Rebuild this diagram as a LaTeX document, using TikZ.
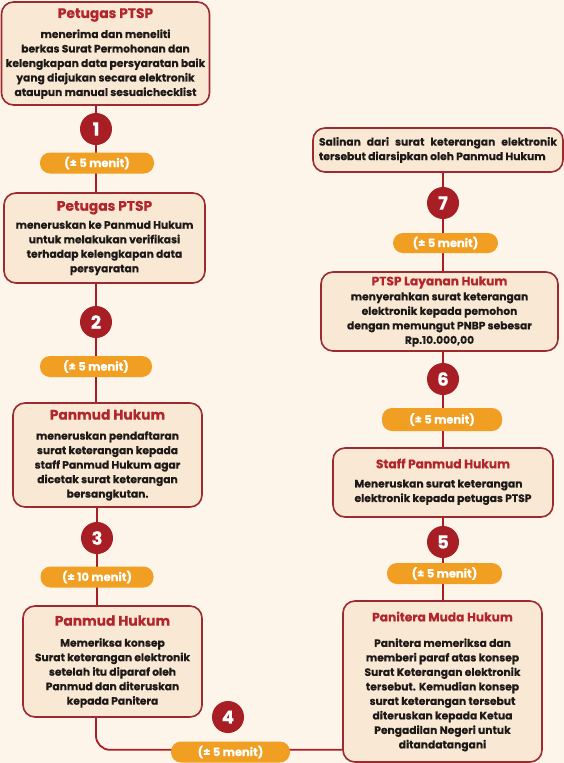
\documentclass[tikz,border=0pt]{standalone}
\usepackage{fontspec}
\setmainfont{Poppins}[BoldFeatures={FakeBold=0.4}]

\definecolor{bgcream}{HTML}{FDF4EA}
\definecolor{boxfill}{HTML}{F9E8D4}
\definecolor{boxline}{HTML}{9C2A2E}
\definecolor{titlered}{HTML}{B2252B}
\definecolor{stepred}{HTML}{A81E25}
\definecolor{pillorange}{HTML}{F09F22}
\definecolor{bodytext}{HTML}{1E1A18}

\pgfdeclarelayer{back}
\pgfdeclarelayer{wires}
\pgfsetlayers{back,wires,main}

\newcommand\bodyfont{\fontsize{10.7}{14.5}\selectfont\bfseries}
\newcommand\cardtitle[1]{{\fontsize{13.8}{14}\selectfont\color{titlered}#1}}
\newcommand\smalltitle[1]{{\fontsize{12.2}{14}\selectfont\color{titlered}#1}}

\tikzset{
  card/.style={draw=boxline, line width=1.6pt, fill=boxfill, rounded corners=12pt,
    inner sep=0pt, align=center, text=bodytext, font=\bodyfont},
  stepdot/.style={circle, fill=stepred, minimum size=32pt, inner sep=0pt,
    text=white, font=\fontsize{18}{18}\selectfont\bfseries},
  pill/.style={fill=pillorange, rounded corners=10pt, minimum height=21pt,
    inner sep=0pt, text=white, font=\fontsize{11.5}{12}\selectfont\bfseries},
  wire/.style={draw=stepred, line width=1.8pt},
}

\begin{document}
\begin{tikzpicture}[x=1pt,y=-1pt]
\useasboundingbox (0,0) rectangle (564,763);
\begin{pgfonlayer}{back}
  \fill[bgcream] (0,0) rectangle (564,763);
\end{pgfonlayer}

% left column
\node[card, minimum width=208pt, minimum height=103pt] (b1) at (105.5,53.5)
  {\cardtitle{Petugas PTSP}\\[5.5pt]
   menerima dan meneliti\\ berkas Surat Permohonan dan\\
   kelengkapan data persyaratan baik\\ yang diajukan secara elektronik\\
   ataupun manual sesuaichecklist};
\node[card, minimum width=201pt, minimum height=90pt] (b2) at (104.5,238)
  {\cardtitle{Petugas PTSP}\\[3.5pt]
   meneruskan ke Panmud Hukum\\ untuk melakukan verifikasi\\
   terhadap kelengkapan data\\ persyaratan};
\node[card, minimum width=189pt, minimum height=104pt] (b3) at (107.5,455)
  {\cardtitle{Panmud Hukum}\\[5.5pt]
   meneruskan pendaftaran\\ surat keterangan kepada\\
   staff Panmud Hukum agar\\ dicetak surat keterangan\\ bersangkutan.};
\node[card, minimum width=179pt, minimum height=111pt] (b4) at (112.5,661.5)
  {\cardtitle{Panmud Hukum}\\[6.5pt]
   Memeriksa konsep\\ Surat keterangan elektronik\\
   setelah itu diparaf oleh\\ Panmud dan diteruskan\\ kepada Panitera};

% right column
\node[card, minimum width=199pt, minimum height=161pt] (b5) at (442.5,681.5)
  {\smalltitle{Panitera Muda Hukum}\\[11pt]
   Panitera memeriksa dan\\ memberi paraf atas konsep\\
   Surat Keterangan elektronik\\ tersebut. Kemudian konsep\\
   surat keterangan tersebut\\ diteruskan kepada Ketua\\
   Pengadilan Negeri untuk\\ ditandatangani};
\node[card, minimum width=220pt, minimum height=69pt] (b6) at (443,482.5)
  {\smalltitle{Staff Panmud Hukum}\\[8pt]
   \begin{tabular}{@{}l@{}}Meneruskan surat keterangan\\
   elektronik kepada petugas PTSP\end{tabular}};
\node[card, minimum width=237pt, minimum height=79pt] (b7) at (439.5,311.5)
  {\smalltitle{PTSP Layanan Hukum}\\[0.5pt]
   menyerahkan surat keterangan\\ elektronik kepada pemohon\\
   dengan memungut PNBP sebesar\\ Rp.10.000,00};
\node[card, minimum width=250pt, minimum height=44pt] (b8) at (438,150)
  {\makebox[238pt][s]{Salinan dari surat keterangan elektronik}\\
   \makebox[238pt][l]{tersebut diarsipkan oleh Panmud Hukum}};

% step markers
\node[stepdot] (c1) at (96,129) {1};
\node[stepdot] (c2) at (96,322) {2};
\node[stepdot] (c3) at (97,538) {3};
\node[stepdot] (c4) at (228,717) {4};
\node[stepdot] (c5) at (443,542) {5};
\node[stepdot] (c6) at (443,379) {6};
\node[stepdot] (c7) at (443,203) {7};

% durations
\node[pill, minimum width=114pt] (p1) at (97,163) {(± 5 menit)};
\node[pill, minimum width=112pt] (p2) at (96,366.5) {(± 5 menit)};
\node[pill, minimum width=113pt] (p3) at (97,577) {(± 10 menit)};
\node[pill, minimum width=119pt] (p4) at (230.5,752) {(± 5 menit)};
\node[pill, minimum width=115pt] (p5) at (444.5,573.5) {(± 5 menit)};
\node[pill, minimum width=120pt, minimum height=23pt] (p6) at (442,419.5) {(± 5 menit)};
\node[pill, minimum width=105pt, minimum height=20pt] (p7) at (445.5,243) {(± 5 menit)};

% connectors
\begin{pgfonlayer}{wires}
  \draw[wire] (c1 |- b1.south) -- (c1 |- b2.north);
  \draw[wire] (c2 |- b2.south) -- (c2 |- b3.north);
  \draw[wire] (c3 |- b3.south) -- (c3 |- b4.north);
  \draw[wire, rounded corners=14pt] (c2 |- b4.south) |- ([yshift=13pt]b5.south west);
  \draw[wire] (c5 |- b5.north) -- (c5 |- b6.south);
  \draw[wire] (c6 |- b6.north) -- (c6 |- b7.south);
  \draw[wire] (c7 |- b7.north) -- (c7 |- b8.south);
\end{pgfonlayer}
\end{tikzpicture}
\end{document}
